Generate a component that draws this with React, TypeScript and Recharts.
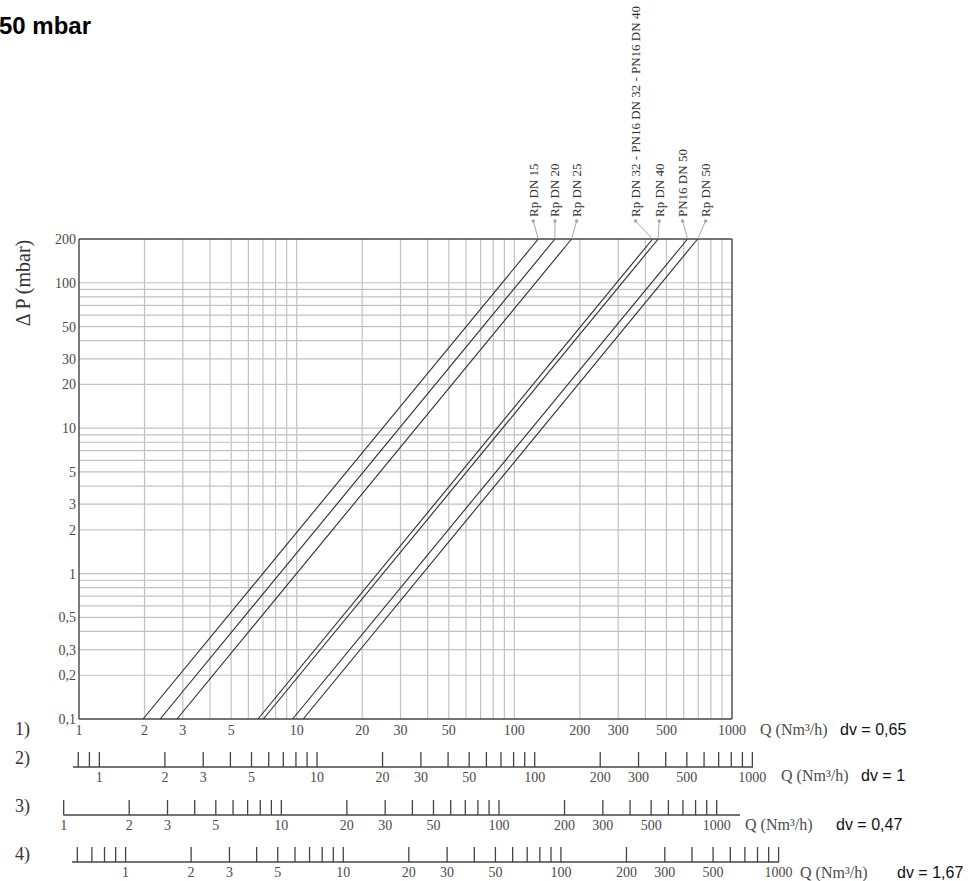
import React from "react";
import {
  ScatterChart,
  Scatter,
  LineChart,
  XAxis,
  YAxis,
  ReferenceLine,
} from "recharts";

// pressure drop curves: Q (Nm³/h, air dv 0,65) at 0,1 mbar and at 200 mbar
const seriesNames = [
  "Rp DN 15",
  "Rp DN 20",
  "Rp DN 25",
  "Rp DN 32 - PN16 DN 32 - PN16 DN 40",
  "Rp DN 40",
  "PN16 DN 50",
  "Rp DN 50",
];
const qAtLowDp = [1.97, 2.36, 2.82, 6.64, 7.03, 9.58, 10.72];
const qAtHighDp = [128.8, 153.7, 183.3, 431.7, 458, 625, 695];
const dpRange = [0.1, 200];

const xTicks = [1, 2, 3, 5, 10, 20, 30, 50, 100, 200, 300, 500, 1000];
const yTicks = [0.1, 0.2, 0.3, 0.5, 1, 2, 3, 5, 10, 20, 30, 50, 100, 200];
const xGrid = [
  2, 3, 4, 5, 6, 7, 8, 9, 10, 20, 30, 40, 50, 60, 70, 80, 90, 100, 200, 300,
  400, 500, 600, 700, 800, 900,
];
const yGrid = [
  0.2, 0.3, 0.4, 0.5, 0.6, 0.7, 0.8, 0.9, 1, 2, 3, 4, 5, 6, 7, 8, 9, 10, 20, 30,
  40, 50, 60, 70, 80, 90, 100,
];

// secondary Q scales for other gases
const row2Ticks = [
  0.8, 0.9, 1, 2, 3, 4, 5, 6, 7, 8, 9, 10, 20, 30, 40, 50, 60, 70, 80, 90, 100,
  200, 300, 400, 500, 600, 700, 800, 900, 1000,
];
const row3Ticks = [
  1, 2, 3, 4, 5, 6, 7, 8, 9, 10, 20, 30, 40, 50, 60, 70, 80, 90, 100, 200, 300,
  400, 500, 600, 700, 800, 900, 1000,
];
const row4Ticks = [
  0.6, 0.7, 0.8, 0.9, 1, 2, 3, 4, 5, 6, 7, 8, 9, 10, 20, 30, 40, 50, 60, 70, 80,
  90, 100, 200, 300, 400, 500, 600, 700, 800, 900, 1000,
];
const scaleLabels = [1, 2, 3, 5, 10, 20, 30, 50, 100, 200, 300, 500, 1000];
const densities = [0.65, 1, 0.47, 1.67];
const densityLabels = ["0,65", "1", "0,47", "1,67"];

// layout
const W = 970;
const H = 881;
const PLOT_LEFT = 79;
const PLOT_RIGHT = 732;
const PLOT_TOP = 239;
const PLOT_BOTTOM = 719;
const DECADE = (PLOT_RIGHT - PLOT_LEFT) / 3;
const SERIF = "'Liberation Serif', 'DejaVu Serif', serif";
const SANS = "'Liberation Sans', Arial, sans-serif";
const labelShift = [-5, 0, 5, -17, 1, -5, 8];

const fmt = (v: number) => String(v).replace(".", ",");

// Q of gas with density dv that sits at the same pixel as air Q
const qAtPixel = (px: number, dv: number) =>
  Math.pow(10, (px - PLOT_LEFT) / DECADE) / Math.sqrt(dv / densities[0]);

const rows = [
  { dv: densities[1], ticks: row2Ticks, lineY: 767, x0: 73, x1: 753, shift: 0 },
  { dv: densities[2], ticks: row3Ticks, lineY: 815, x0: 63.5, x1: 740, shift: 0 },
  { dv: densities[3], ticks: row4Ticks, lineY: 862, x0: 72, x1: 779, shift: 2 },
];

function ScaleTick(props: any) {
  const { x, y, payload } = props;
  const v = payload.value;
  return (
    <g>
      <line x1={x} x2={x} y1={y - 15} y2={y} stroke="#444" strokeWidth={1.3} />
      {scaleLabels.includes(v) && (
        <text
          x={x}
          y={y + 15}
          textAnchor="middle"
          fontSize={14}
          fontFamily={SERIF}
          fill="#4a4a4a"
        >
          {fmt(v)}
        </text>
      )}
    </g>
  );
}

function endLabel(i: number) {
  return (props: any) => {
    const { cx, cy, payload } = props;
    if (payload.dp !== dpRange[1]) return <g />;
    const lx = cx + labelShift[i];
    const ly = cy - 18;
    return (
      <g>
        <line x1={cx} y1={cy} x2={lx} y2={ly} stroke="#a8a8a8" strokeWidth={1} />
        <circle cx={lx} cy={ly} r={1.8} fill="#a8a8a8" />
        <text
          transform={`translate(${lx},${ly - 4}) rotate(-90)`}
          dominantBaseline="central"
          fontSize={13}
          fontFamily={SERIF}
          fill="#333"
        >
          {seriesNames[i]}
        </text>
      </g>
    );
  };
}

export default function App() {
  const rowTexts = [735, 764, 812, 860];
  const qLabelX = [760, 781, 745, 800];
  const qLabelY = [735, 781, 830, 878];
  const dvLabelX = [840, 861, 836, 897];

  return (
    <div
      style={{
        position: "absolute",
        left: 0,
        top: 0,
        width: W,
        height: H,
        background: "#fff",
        overflow: "hidden",
      }}
    >
      <div style={{ position: "absolute", left: 0, top: 0 }}>
        <ScatterChart
          width={W}
          height={H}
          margin={{ top: PLOT_TOP, right: W - PLOT_RIGHT, bottom: H - PLOT_BOTTOM - 30, left: PLOT_LEFT - 40 }}
        >
          <XAxis
            dataKey="q"
            type="number"
            scale="log"
            domain={[1, 1000]}
            ticks={xTicks}
            interval={0}
            height={30}
            tickLine={false}
            tickSize={0}
            tickMargin={6}
            tickFormatter={fmt}
            axisLine={{ stroke: "#444", strokeWidth: 1.4 }}
            tick={{ fontSize: 14, fontFamily: SERIF, fill: "#4a4a4a" }}
          />
          <YAxis
            dataKey="dp"
            type="number"
            scale="log"
            domain={dpRange}
            ticks={yTicks}
            interval={0}
            width={40}
            tickLine={false}
            tickSize={0}
            tickMargin={3}
            tickFormatter={fmt}
            axisLine={{ stroke: "#444", strokeWidth: 1.4 }}
            tick={{ fontSize: 14, fontFamily: SERIF, fill: "#4a4a4a" }}
          />
          {xGrid.map((v) => (
            <ReferenceLine key={"gx" + v} x={v} stroke="#c2c2c6" strokeWidth={1.2} />
          ))}
          {yGrid.map((v) => (
            <ReferenceLine key={"gy" + v} y={v} stroke="#c2c2c6" strokeWidth={1.2} />
          ))}
          <ReferenceLine y={dpRange[1]} stroke="#444" strokeWidth={1.4} />
          <ReferenceLine x={1000} stroke="#444" strokeWidth={1.4} />
          {seriesNames.map((name, i) => (
            <Scatter
              key={name}
              name={name}
              data={[
                { q: qAtLowDp[i], dp: dpRange[0] },
                { q: qAtHighDp[i], dp: dpRange[1] },
              ]}
              line={{ stroke: "#2b2b2b", strokeWidth: 1.1 }}
              lineType="joint"
              shape={endLabel(i)}
              isAnimationActive={false}
            />
          ))}
        </ScatterChart>
      </div>

      {rows.map((r, k) => (
        <div
          key={"row" + k}
          style={{ position: "absolute", left: 0, top: r.lineY - 20 }}
        >
          <LineChart
            width={W}
            height={45}
            data={r.ticks.map((q) => ({ q }))}
            margin={{ top: 0, right: W - r.x1, bottom: 0, left: r.x0 }}
          >
            <XAxis
              dataKey="q"
              type="number"
              scale="log"
              domain={[qAtPixel(r.x0 - r.shift, r.dv), qAtPixel(r.x1 - r.shift, r.dv)]}
              allowDataOverflow
              ticks={r.ticks}
              interval={0}
              height={25}
              tickLine={false}
              tickSize={0}
              tickMargin={0}
              axisLine={{ stroke: "#444", strokeWidth: 1.4 }}
              tick={<ScaleTick />}
            />
          </LineChart>
        </div>
      ))}

      <svg
        width={W}
        height={H}
        style={{ position: "absolute", left: 0, top: 0, pointerEvents: "none" }}
      >
        <text
          x={91}
          y={34}
          textAnchor="end"
          fontSize={24}
          fontWeight="bold"
          fontFamily={SANS}
          fill="#000"
        >
          50 mbar
        </text>
        <text
          transform="translate(23,283) rotate(-90)"
          textAnchor="middle"
          dominantBaseline="central"
          fontSize={20}
          fontFamily={SERIF}
          fill="#333"
        >
          Δ P (mbar)
        </text>
        {rowTexts.map((y, k) => (
          <text key={"n" + k} x={15} y={y} fontSize={18} fontFamily={SERIF} fill="#333">
            {k + 1})
          </text>
        ))}
        {densityLabels.map((d, k) => (
          <g key={"d" + k}>
            <text x={qLabelX[k]} y={qLabelY[k]} fontSize={16} fontFamily={SERIF} fill="#4a4a4a">
              Q (Nm³/h)
            </text>
            <text x={dvLabelX[k]} y={qLabelY[k]} fontSize={16} fontFamily={SANS} fill="#111">
              dv = {d}
            </text>
          </g>
        ))}
      </svg>
    </div>
  );
}
